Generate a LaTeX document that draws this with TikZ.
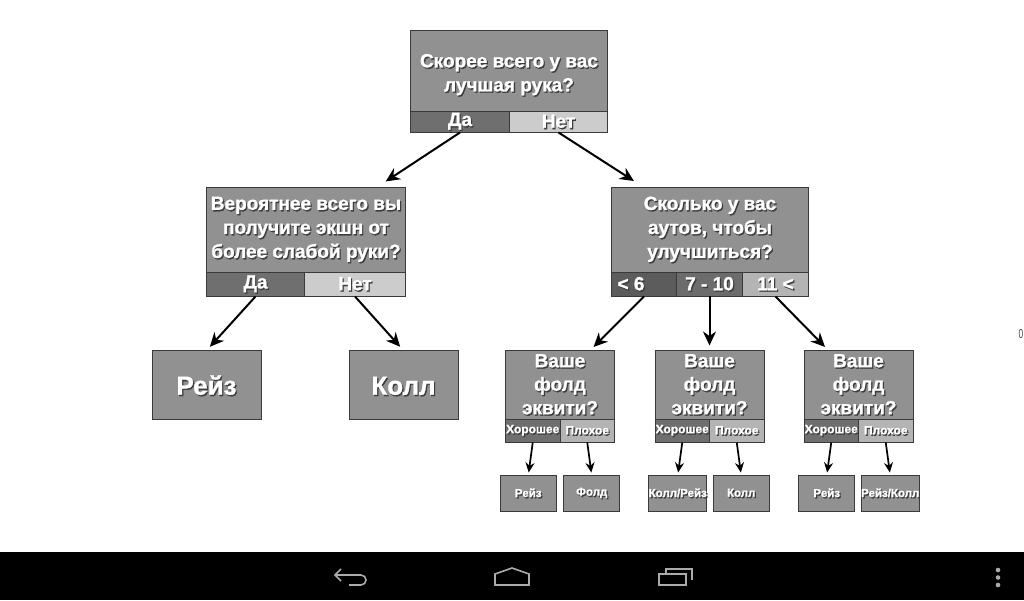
\documentclass[tikz,border=0pt]{standalone}
\usepackage{fontspec}
\setmainfont[BoldFeatures={FakeBold=1.3}]{Liberation Sans}
\usetikzlibrary{arrows.meta,positioning}
\definecolor{boxgray}{HTML}{919191}
\definecolor{edgegray}{HTML}{3A3A3A}
\definecolor{yesgray}{HTML}{6F6F6F}
\definecolor{lowgray}{HTML}{5C5C5C}
\definecolor{midgray}{HTML}{6C6C6C}
\definecolor{nogray}{HTML}{CCCCCC}
\definecolor{badgray}{HTML}{B4B4B4}
\definecolor{shadegray}{HTML}{3C3C3C}
\definecolor{icongray}{HTML}{ABABAB}
\newcommand{\shtxt}[1]{\makebox[0pt][l]{\hspace{1.2pt}\raisebox{-1.4pt}{\textcolor{shadegray}{#1}}}\textcolor{white}{#1}}
\newcommand{\dropline}[1]{\rule{0pt}{#1}}

\begin{document}
\begin{tikzpicture}[
            x=1pt, y=1pt,
            font=\bfseries,
            cell/.style={draw=edgegray, line width=1pt, inner sep=0pt, outer sep=0pt, align=center},
            question/.style={cell, fill=boxgray, font=\fontsize{19}{24}\selectfont\bfseries},
            bigq/.style={question, minimum height=85pt},
            smallq/.style={question, minimum width=109pt, minimum height=69pt, font=\fontsize{19}{23.5}\selectfont\bfseries},
            answer/.style={cell, minimum height=24pt, font=\fontsize{19}{20}\selectfont\bfseries},
            tinyans/.style={cell, minimum width=54.5pt, minimum height=23pt, font=\fontsize{12}{12}\selectfont\bfseries},
            result/.style={cell, fill=boxgray, minimum width=109pt, minimum height=69pt, font=\fontsize{26}{28}\selectfont\bfseries},
            leaf/.style={cell, fill=boxgray, minimum width=56pt, minimum height=36pt, font=\fontsize{11.5}{12}\selectfont\bfseries},
            arrow/.style={-{Stealth[length=14pt,width=13pt]}, line width=2pt, black, shorten >=5pt},
            tinyarrow/.style={-{Stealth[length=10pt,width=9pt]}, line width=1.7pt, black, shorten >=3pt},
            navicon/.style={draw=icongray, line width=1.6pt}
        ]
            \useasboundingbox (0,0) rectangle (1024,600);

            \node[question, minimum width=197pt, minimum height=81pt, anchor=north west] (qtop) at (410.5,569.5) {\dropline{22pt}\shtxt{Скорее всего у вас}\\\shtxt{лучшая рука?}};
            \node[answer, fill=yesgray, minimum width=99pt, minimum height=21pt, below right=0pt of qtop.south west] (topyes) {\shtxt{Да}};
            \node[answer, fill=nogray, minimum width=98pt, minimum height=21pt, right=0pt of topyes] (topno) {\shtxt{Нет}};

            \node[bigq, minimum width=199pt, below left=55pt and 5pt of topyes.south west] (qleft) {\shtxt{Вероятнее всего вы}\\\shtxt{получите экшн от}\\\shtxt{более слабой руки?}};
            \node[answer, fill=yesgray, minimum width=98pt, below right=0pt of qleft.south west] (leftyes) {\shtxt{Да}};
            \node[answer, fill=nogray, minimum width=101pt, right=0pt of leftyes] (leftno) {\shtxt{Нет}};

            \node[bigq, minimum width=197pt, below right=55pt and 4pt of topno.south east] (qright) {\shtxt{Сколько у вас}\\\shtxt{аутов, чтобы}\\\shtxt{улучшиться?}};
            \node[answer, fill=lowgray, minimum width=65pt, below right=0pt of qright.south west] (rightlow) {\shtxt{< 6}\hspace{26pt}};
            \node[answer, fill=midgray, minimum width=66pt, right=0pt of rightlow] (rightmid) {\shtxt{7 - 10}};
            \node[answer, fill=badgray, minimum width=66pt, right=0pt of rightmid] (righthigh) {\shtxt{11 <}};

            \node[result, below=54pt of leftyes.south, xshift=-49pt] (raise) {\dropline{21pt}\shtxt{Рейз}};
            \node[result, below=54pt of leftno.south, xshift=48.5pt] (call) {\dropline{21pt}\shtxt{Колл}};

            \node[smallq, below=54pt of rightlow.south, xshift=-84pt] (foldone) {\shtxt{Ваше}\\\shtxt{фолд}\\\shtxt{эквити?}};
            \node[tinyans, fill=yesgray, below right=0pt of foldone.south west] (onegood) {\shtxt{Хорошее}};
            \node[tinyans, fill=badgray, right=0pt of onegood] (onebad) {\shtxt{Плохое}};
            \node[smallq, below=54pt of rightmid.south] (foldtwo) {\shtxt{Ваше}\\\shtxt{фолд}\\\shtxt{эквити?}};
            \node[tinyans, fill=yesgray, below right=0pt of foldtwo.south west] (twogood) {\shtxt{Хорошее}};
            \node[tinyans, fill=badgray, right=0pt of twogood] (twobad) {\shtxt{Плохое}};
            \node[smallq, below=54pt of righthigh.south, xshift=83pt] (foldthree) {\shtxt{Ваше}\\\shtxt{фолд}\\\shtxt{эквити?}};
            \node[tinyans, fill=yesgray, below right=0pt of foldthree.south west] (threegood) {\shtxt{Хорошее}};
            \node[tinyans, fill=badgray, right=0pt of threegood] (threebad) {\shtxt{Плохое}};

            \node[leaf, below=33pt of onegood.south, xshift=-4.5pt] (leafa) {\shtxt{Рейз}};
            \node[leaf, below=33pt of onebad.south, xshift=4.5pt] (leafb) {\shtxt{Фолд}};
            \node[leaf, below=33pt of twogood.south, xshift=-4.5pt] (leafc) {\shtxt{Колл/Рейз}};
            \node[leaf, below=33pt of twobad.south, xshift=4.5pt] (leafd) {\shtxt{Колл}};
            \node[leaf, below=33pt of threegood.south, xshift=-4.5pt] (leafe) {\shtxt{Рейз}};
            \node[leaf, below=33pt of threebad.south, xshift=4.5pt] (leaff) {\shtxt{Рейз/Колл}};

            \draw[arrow, shorten >=11pt] (topyes.south) -- ([xshift=70.5pt]qleft.north);
            \draw[arrow, shorten >=12pt] (topno.south) -- ([xshift=-66pt]qright.north);
            \draw[arrow] (leftyes.south) -- (raise.north);
            \draw[arrow] (leftno.south) -- (call.north);
            \draw[arrow] (rightlow.south) -- ([xshift=30pt]foldone.north);
            \draw[arrow] (rightmid.south) -- (foldtwo.north);
            \draw[arrow] (righthigh.south) -- ([xshift=-30pt]foldthree.north);
            \draw[tinyarrow] (onegood.south) -- (leafa.north);
            \draw[tinyarrow] (onebad.south) -- (leafb.north);
            \draw[tinyarrow] (twogood.south) -- (leafc.north);
            \draw[tinyarrow] (twobad.south) -- (leafd.north);
            \draw[tinyarrow] (threegood.south) -- (leafe.north);
            \draw[tinyarrow] (threebad.south) -- (leaff.north);

            % bottom bar
            \node[fill=black, minimum width=1024pt, minimum height=48pt, inner sep=0pt, outer sep=0pt, anchor=south west] (navbar) at (0,0) {};
            \draw[navicon] (341,31) -- (335,25) -- (341,19) (335,25) -- (361,25) arc (90:-90:5) -- (349,15);
            \draw[navicon] (495,15) -- (495,26) -- (512,32) -- (529,26) -- (529,15) -- cycle;
            \draw[navicon] (659,15) rectangle (686,26) (666,26) -- (666,31) -- (692,31) -- (692,20);
            \fill[icongray] (998,30) circle (2.3) (998,22.5) circle (2.3) (998,15) circle (2.3);
            \node[font=\fontsize{13}{14}\selectfont, text=black!70, anchor=west, inner sep=0pt] (edgemark) at (1018.5,266) {\scalebox{0.65}[1]{0}};
        \end{tikzpicture}
\end{document}
